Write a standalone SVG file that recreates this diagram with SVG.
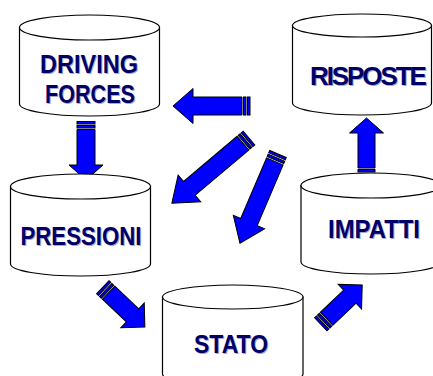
<svg xmlns="http://www.w3.org/2000/svg" width="433" height="376" viewBox="0 0 433 376">
  <style>
    .cyl { fill: #ffffff; stroke: #000000; stroke-width: 1.2; }
    .lbl { font-family: "Liberation Sans", Arial, sans-serif; font-weight: bold; font-size: 26px; fill: #000066; }
    .shd { font-family: "Liberation Sans", Arial, sans-serif; font-weight: bold; font-size: 26px; fill: #a8a8cc; }
    .tight { letter-spacing: -2.1px; }
    .arr { fill: #0000ff; stroke: #000000; stroke-width: 1; stroke-linejoin: miter; }
  </style>
  <defs>
    <!-- striped arrows: tail at origin, pointing along +x -->
    <g id="arrow-long">
      <rect class="arr" x="0" y="-9" width="2.5" height="18"/>
      <rect class="arr" x="4" y="-9" width="2.5" height="18"/>
      <path class="arr" d="M8,-9 H78 V-17.5 L101,0 L78,17.5 V9 H8 Z"/>
    </g>
  </defs>
  <rect width="433" height="376" fill="#ffffff"/>

  <g id="connectors">
    <!-- RISPOSTE back to DRIVING FORCES -->
    <g transform="translate(250,106) rotate(180)">
      <rect class="arr" x="0" y="-9" width="2.5" height="18"/>
      <rect class="arr" x="4" y="-9" width="2.5" height="18"/>
      <path class="arr" d="M8,-9 H57 V-17.5 L77,0 L57,17.5 V9 H8 Z"/>
    </g>
    <!-- DRIVING FORCES to PRESSIONI -->
    <g transform="translate(86,121.5) rotate(90)">
      <rect class="arr" x="0" y="-9" width="2.5" height="18"/>
      <rect class="arr" x="4" y="-9" width="2.5" height="18"/>
      <path class="arr" d="M8,-9 H43.5 V-17 L58.5,0 L43.5,17 V9 H8 Z"/>
    </g>
    <!-- IMPATTI to RISPOSTE -->
    <g transform="translate(366.5,176) rotate(-90)">
      <rect class="arr" x="0" y="-8.5" width="2.5" height="17"/>
      <rect class="arr" x="4" y="-8.5" width="2.5" height="17"/>
      <path class="arr" d="M8,-8.5 H43 V-17 L58,0 L43,17 V8.5 H8 Z"/>
    </g>
    <!-- responses to PRESSIONI -->
    <g transform="translate(249,138) rotate(139.8)">
      <use href="#arrow-long"/>
    </g>
    <!-- responses to STATO -->
    <g transform="translate(278,154) rotate(113.1)">
      <rect class="arr" x="0" y="-9" width="2.5" height="18"/>
      <rect class="arr" x="4" y="-9" width="2.5" height="18"/>
      <path class="arr" d="M8,-9 H74 V-17 L97,0 L74,17 V9 H8 Z"/>
    </g>
    <!-- PRESSIONI to STATO -->
    <g transform="translate(102.8,287.2) rotate(43.5)">
      <rect class="arr" x="0" y="-9" width="2.5" height="18"/>
      <rect class="arr" x="4" y="-9" width="2.5" height="18"/>
      <path class="arr" d="M8,-9 H41 V-17 L58,0 L41,17 V9 H8 Z"/>
    </g>
    <!-- STATO to IMPATTI -->
    <g transform="translate(320.8,324.2) rotate(-43.4)">
      <rect class="arr" x="0" y="-9" width="2.5" height="18"/>
      <rect class="arr" x="4" y="-9" width="2.5" height="18"/>
      <path class="arr" d="M8,-9 H40 V-17 L57,0 L40,17 V9 H8 Z"/>
    </g>
  </g>

  <g id="driving-forces">
    <path class="cyl" d="M19.5,27.5 V104 A70,12 0 0 0 159.5,104 V27.5 Z"/>
    <ellipse class="cyl" cx="89.5" cy="27.5" rx="70" ry="12.5"/>
    <text class="shd" x="41" y="74" textLength="98" lengthAdjust="spacingAndGlyphs">DRIVING</text>
    <text class="lbl" x="40" y="73" textLength="98" lengthAdjust="spacingAndGlyphs">DRIVING</text>
    <text class="shd" x="46" y="104" textLength="90" lengthAdjust="spacingAndGlyphs">FORCES</text>
    <text class="lbl" x="45" y="103" textLength="90" lengthAdjust="spacingAndGlyphs">FORCES</text>
  </g>

  <g id="risposte">
    <path class="cyl" d="M292.5,25.5 V103 A69.5,12 0 0 0 431.5,103 V25.5 Z"/>
    <ellipse class="cyl" cx="362" cy="25.5" rx="69.5" ry="11.5"/>
    <text class="shd tight" x="311" y="86">RISPOSTE</text>
    <text class="lbl tight" x="310" y="85">RISPOSTE</text>
  </g>

  <g id="pressioni">
    <path class="cyl" d="M10.5,186.5 V264 A70,12 0 0 0 150.5,264 V186.5 Z"/>
    <ellipse class="cyl" cx="80.5" cy="186.5" rx="70" ry="12.5"/>
    <text class="shd" x="21.5" y="246" textLength="121" lengthAdjust="spacingAndGlyphs">PRESSIONI</text>
    <text class="lbl" x="20.5" y="245" textLength="121" lengthAdjust="spacingAndGlyphs">PRESSIONI</text>
  </g>

  <g id="impatti">
    <path class="cyl" d="M301,185.5 V262 A70,12 0 0 0 441,262 V185.5 Z"/>
    <ellipse class="cyl" cx="371" cy="185.5" rx="70" ry="12.5"/>
    <text class="shd" x="329" y="239" textLength="92" lengthAdjust="spacingAndGlyphs">IMPATTI</text>
    <text class="lbl" x="328" y="238" textLength="92" lengthAdjust="spacingAndGlyphs">IMPATTI</text>
  </g>

  <g id="stato">
    <path class="cyl" d="M162.5,297 V374 A70.25,12 0 0 0 303,374 V297 Z"/>
    <ellipse class="cyl" cx="232.75" cy="297" rx="70.25" ry="12"/>
    <text class="shd" x="195" y="354" textLength="74" lengthAdjust="spacingAndGlyphs">STATO</text>
    <text class="lbl" x="194" y="353" textLength="74" lengthAdjust="spacingAndGlyphs">STATO</text>
  </g>
</svg>
